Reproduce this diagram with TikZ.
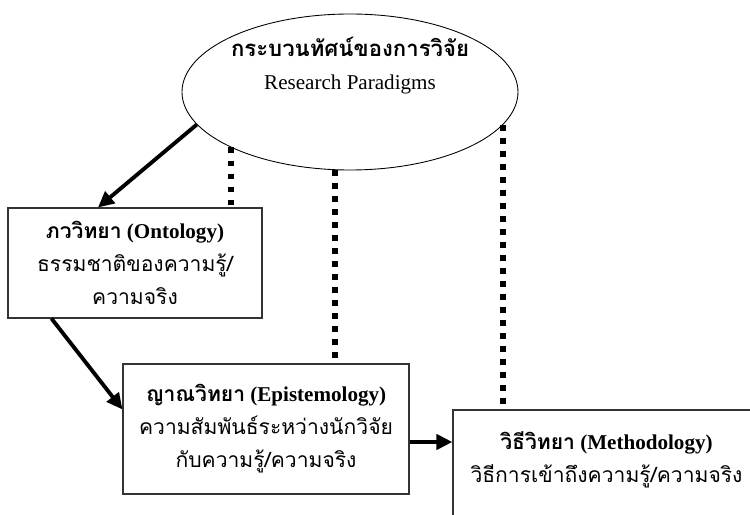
\documentclass[tikz,border=0pt]{standalone}
\usepackage{fontspec}
\setmainfont{Liberation Serif}
\newfontfamily\thaifont[Script=Thai]{Loma}
\usetikzlibrary{shapes.geometric,arrows.meta}

\begin{document}
\begin{tikzpicture}[
    box/.style={draw=black!80,line width=0.6pt,inner sep=0pt,align=center,
                font=\fontsize{12}{18.8}\selectfont},
    link/.style={line width=2.2pt,-{Triangle[length=0.32cm,width=0.3cm]}},
    dots/.style={line width=3.4pt,dash pattern=on 3.4pt off 4pt}
]
                    \useasboundingbox (0,0) rectangle (15,10.3);
                    \clip (0,0) rectangle (15,10.3);
                    \node[draw,ellipse,line width=0.5pt,minimum width=6.72cm,minimum height=3.12cm,inner sep=0pt] (paradigm) at (7,8.46) {};
                    \node[align=center,font=\fontsize{12}{18.8}\selectfont] (paradigmtext) at (7,8.98)
                        {{\thaifont\bfseries\fontsize{12.6}{18.8}\selectfont กระบวนทัศน์ของการวิจัย}\\Research Paradigms};
                    \node[box,minimum width=5.08cm,minimum height=2.2cm] (onto) at (2.7,5.04)
                        {{\thaifont\bfseries ภววิทยา} \textbf{(Ontology)}\\{\thaifont ธรรมชาติของความรู้/}\\{\thaifont ความจริง}};
                    \node[box,minimum width=5.72cm,minimum height=2.6cm] (epis) at (5.32,1.72)
                        {{\thaifont\bfseries ญาณวิทยา} \textbf{(Epistemology)}\\{\thaifont ความสัมพันธ์ระหว่างนักวิจัย}\\{\thaifont กับความรู้/ความจริง}};
                    \node[box,minimum width=6.14cm,minimum height=2.3cm,text depth=0.42cm] (meth) at (12.13,0.95)
                        {{\thaifont\bfseries วิธีวิทยา} \textbf{(Methodology)}\\{\thaifont วิธีการเข้าถึงความรู้/ความจริง}};
                    % arrows between the three levels
                    \draw[link] (paradigm.192) -- ([xshift=-0.74cm]onto.north);
                    \draw[link] ([xshift=0.88cm]onto.south west) -- ([yshift=-0.92cm]epis.north west);
                    \draw[link] ([yshift=-0.26cm]epis.east) -- ([yshift=-0.26cm]epis.east -| meth.west);
                    % dotted links to the paradigm
                    \draw[dots] (paradigm.205) -- (paradigm.205 |- onto.north);
                    \draw[dots] (paradigm.259) -- (paradigm.259 |- epis.north);
                    \draw[dots] (paradigm.348) -- (paradigm.348 |- meth.north);
\end{tikzpicture}
\end{document}
